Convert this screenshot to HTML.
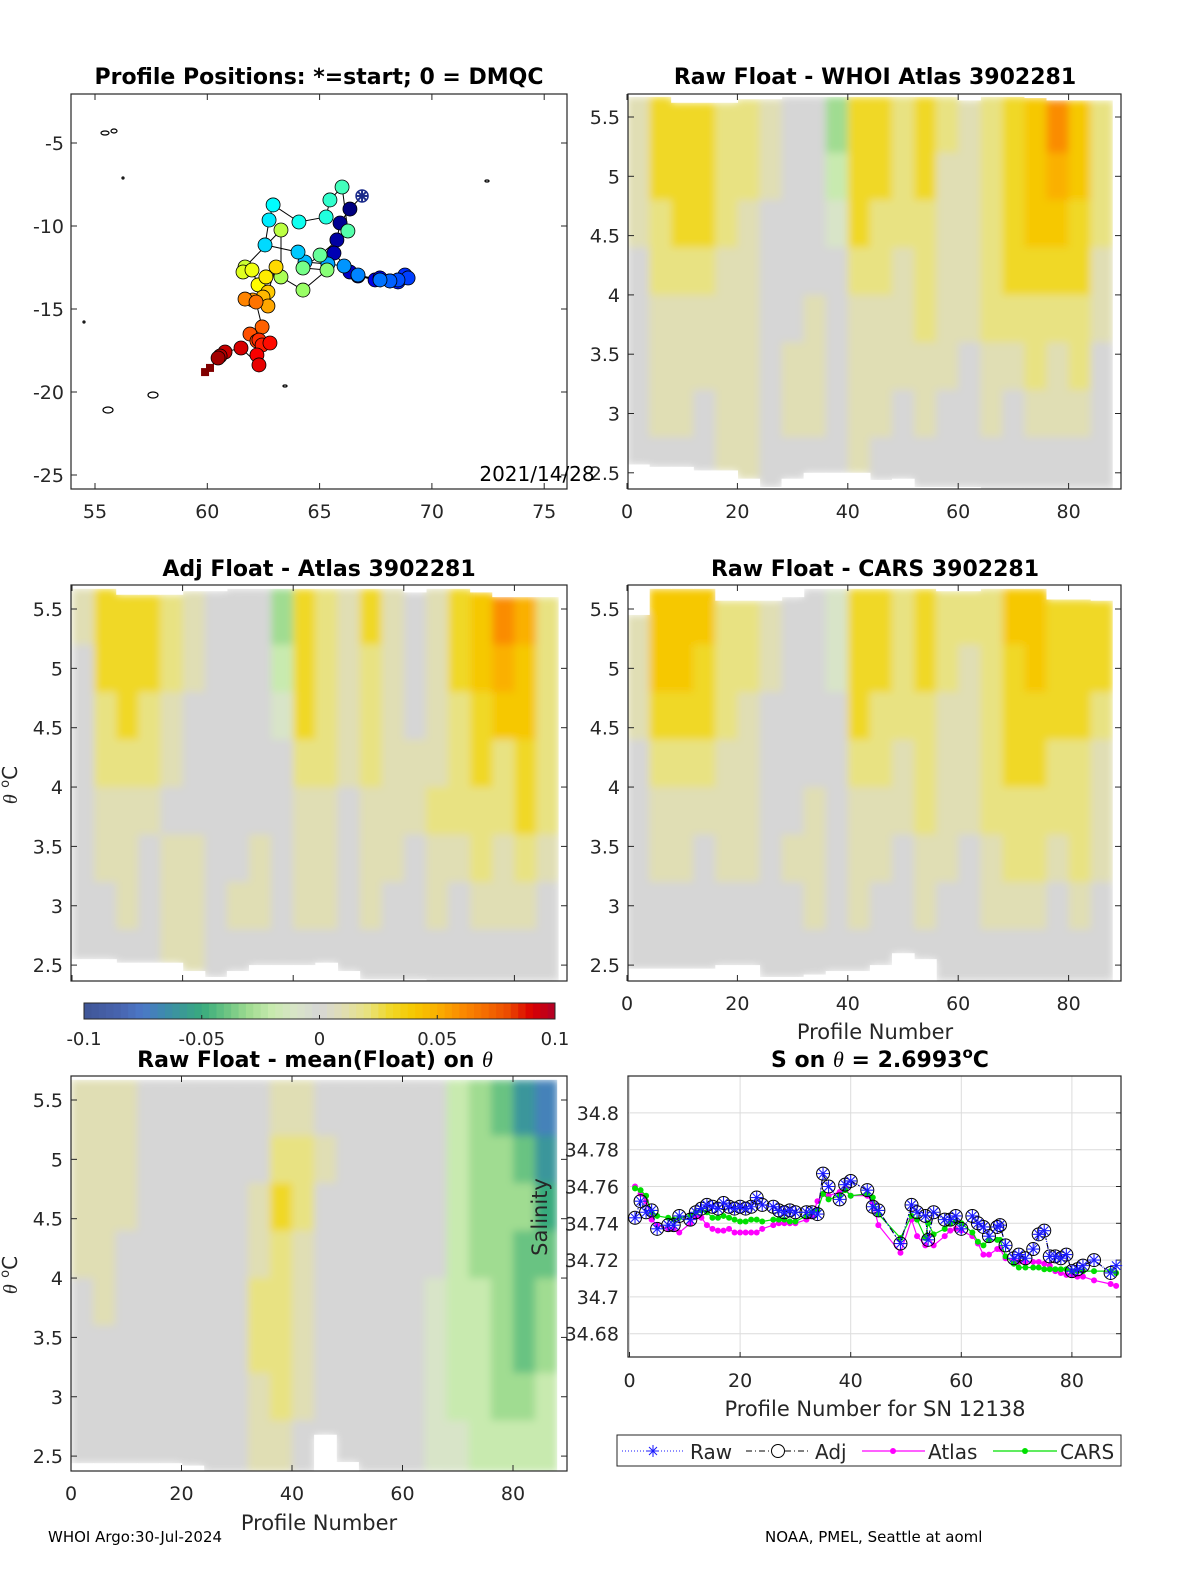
<!DOCTYPE html>
<html><head><meta charset="utf-8"><style>
html,body{margin:0;padding:0;background:#fff;}
svg{display:block;font-family:"DejaVu Sans","Liberation Sans",sans-serif;}
</style></head><body>
<svg id="fig" width="1200" height="1575" viewBox="0 0 1200 1575" xmlns="http://www.w3.org/2000/svg">
<defs><filter id="soft" x="-5%" y="-5%" width="110%" height="110%"><feGaussianBlur stdDeviation="4"/></filter></defs>
<g id="layer-heat"></g>
<g id="layer-map"></g>
<g id="layer-line"></g>
<g id="layer-text">
<text x="319" y="84" text-anchor="middle" font-size="22" font-weight="bold">Profile Positions: *=start; 0 = DMQC</text>
<text x="875" y="84" text-anchor="middle" font-size="22" font-weight="bold">Raw Float - WHOI Atlas  3902281</text>
<text x="319" y="576" text-anchor="middle" font-size="22" font-weight="bold">Adj Float - Atlas  3902281</text>
<text x="875" y="576" text-anchor="middle" font-size="22" font-weight="bold">Raw Float - CARS  3902281</text>
<text x="315" y="1067" text-anchor="middle" font-size="22" font-weight="bold">Raw Float - mean(Float) on <tspan font-family="Liberation Serif" font-style="italic" font-weight="normal">θ</tspan></text>
<text x="880" y="1067" text-anchor="middle" font-size="22" font-weight="bold">S on <tspan font-family="Liberation Serif" font-style="italic" font-weight="normal">θ</tspan> = 2.6993<tspan font-size="15" dy="-9">o</tspan><tspan dy="9">C</tspan></text>
<text x="537" y="481" text-anchor="middle" font-size="20">2021/14/28</text>
<text x="875" y="1039" text-anchor="middle" font-size="21" fill="#262626">Profile Number</text>
<text x="875" y="1416" text-anchor="middle" font-size="21" fill="#262626">Profile Number for SN 12138</text>
<text x="319" y="1530" text-anchor="middle" font-size="21" fill="#262626">Profile Number</text>
<text transform="translate(17,785) rotate(-90)" text-anchor="middle" font-size="20" fill="#262626"><tspan font-family="Liberation Serif" font-style="italic">θ</tspan> <tspan font-size="13" dy="-8">o</tspan><tspan dy="8">C</tspan></text>
<text transform="translate(17,1275) rotate(-90)" text-anchor="middle" font-size="20" fill="#262626"><tspan font-family="Liberation Serif" font-style="italic">θ</tspan> <tspan font-size="13" dy="-8">o</tspan><tspan dy="8">C</tspan></text>
<text transform="translate(547,1217) rotate(-90)" text-anchor="middle" font-size="21" fill="#262626">Salinity</text>
<text x="48" y="1542" font-size="15">WHOI Argo:30-Jul-2024</text>
<text x="765" y="1542" font-size="15">NOAA, PMEL, Seattle at aoml</text>
</g>
</svg>
<script>
// ---------- Data ----------
const whoiGrid = [
[1,3,3,3,2,2,1,0,0,-3,3,3,2,3,2,1,2,3,4,6,4,2],
[1,3,3,3,2,2,1,0,0,-2,3,3,2,3,1,1,2,3,4,5,4,2],
[1,2,3,3,2,1,0,0,0,-1,3,2,2,2,1,1,2,3,4,4,3,2],
[0,2,2,2,1,1,0,0,0,0,2,2,1,2,1,1,2,3,3,3,3,1],
[0,1,1,1,1,1,0,0,1,0,1,1,1,2,1,1,2,2,2,2,2,1],
[0,1,1,1,1,1,0,1,1,0,1,1,1,1,1,0,1,1,2,1,2,0],
[0,1,1,0,1,1,0,1,1,0,1,1,0,1,0,0,1,0,1,1,1,0],
[0,0,0,0,1,1,0,0,0,0,1,0,0,0,0,0,0,0,0,0,0,0]];
const whoiTop = [5.67,5.67,5.62,5.62,5.62,5.65,5.65,5.67,5.67,5.67,5.67,5.67,5.67,5.67,5.67,5.64,5.67,5.67,5.66,5.64,5.64,5.64];
const whoiBottom = [2.57,2.55,2.55,2.52,2.52,2.45,2.38,2.45,2.5,2.5,2.5,2.44,2.45,2.38,2.38,2.38,2.37,2.37,2.37,2.37,2.37,2.37];

const adjGrid = [
[1,3,3,3,2,1,0,0,0,-3,3,2,1,3,1,0,1,3,4,6,5,2],
[0,3,3,3,2,1,0,0,0,-2,3,2,1,2,1,0,1,3,4,5,4,2],
[0,2,3,2,1,0,0,0,0,-1,3,2,1,2,1,0,1,2,3,4,4,2],
[0,2,2,2,1,0,0,0,0,0,2,2,1,2,1,1,1,2,3,2,3,2],
[0,1,1,1,0,0,0,0,0,0,1,1,0,1,1,1,2,2,2,2,3,2],
[0,1,1,0,1,1,0,0,1,0,1,1,0,1,1,0,1,1,2,1,2,1],
[0,0,1,0,1,1,0,1,1,0,1,1,0,1,0,0,1,0,1,1,1,0],
[0,0,0,0,1,1,0,0,0,0,0,0,0,0,0,0,0,0,0,0,0,0]];
const adjTop = [5.67,5.67,5.62,5.62,5.62,5.65,5.65,5.67,5.67,5.67,5.67,5.67,5.67,5.67,5.67,5.64,5.67,5.67,5.64,5.6,5.6,5.6];
const adjBottom = [2.55,2.55,2.52,2.52,2.52,2.45,2.4,2.45,2.5,2.5,2.5,2.52,2.45,2.38,2.38,2.38,2.37,2.37,2.37,2.37,2.37,2.37];

const carsGrid = [
[1,4,4,4,2,2,1,0,0,-1,3,3,2,3,2,2,2,4,4,3,3,3],
[1,4,4,3,2,2,1,0,0,-1,3,3,2,3,2,1,2,3,4,3,3,3],
[1,3,3,3,2,1,0,0,0,0,3,2,2,2,1,1,2,3,3,3,3,2],
[0,2,2,2,1,1,0,0,0,0,2,2,1,2,1,1,2,3,3,2,2,1],
[0,1,1,1,1,1,0,0,1,0,1,1,1,2,1,1,2,2,2,2,2,1],
[0,1,1,0,1,1,0,1,1,0,1,1,0,1,1,0,1,2,2,1,2,1],
[0,0,0,0,0,0,0,0,1,0,1,0,0,1,0,0,1,1,1,0,1,0],
[0,0,0,0,0,0,0,0,0,0,0,0,0,0,0,0,0,0,0,0,0,0]];
const carsTop = [5.45,5.67,5.67,5.67,5.57,5.57,5.57,5.6,5.67,5.67,5.67,5.67,5.67,5.67,5.65,5.65,5.67,5.67,5.67,5.58,5.58,5.57];
const carsBottom = [2.47,2.47,2.47,2.47,2.5,2.5,2.4,2.4,2.42,2.45,2.45,2.5,2.6,2.55,2.37,2.37,2.37,2.37,2.37,2.37,2.37,2.37];

const meanGrid = [
[1,1,1,0,0,0,0,0,0,1,1,0,0,0,0,0,0,-2,-3,-4,-6,-7],
[1,1,1,0,0,0,0,0,0,2,2,1,0,0,0,0,0,-2,-3,-3,-4,-6],
[1,1,1,0,0,0,0,0,1,3,2,0,0,0,0,0,0,-2,-3,-3,-3,-5],
[1,1,0,0,0,0,0,0,1,2,1,0,0,0,0,0,0,-2,-3,-3,-4,-4],
[0,1,0,0,0,0,0,0,2,2,1,0,0,0,0,0,-1,-2,-2,-3,-4,-3],
[0,0,0,0,0,0,0,0,2,2,1,0,0,0,0,0,-1,-2,-2,-3,-4,-3],
[0,0,0,0,0,0,0,0,1,2,1,0,0,0,0,0,-1,-2,-2,-3,-3,-2],
[0,0,0,0,0,0,0,0,1,1,0,0,0,0,0,0,-1,-1,-2,-2,-2,-2]];
const meanTop = [5.67,5.67,5.67,5.67,5.67,5.67,5.67,5.67,5.67,5.67,5.67,5.67,5.67,5.67,5.67,5.67,5.67,5.67,5.67,5.67,5.67,5.67];
const meanBottom = [2.44,2.44,2.44,2.44,2.44,2.42,2.37,2.37,2.37,2.37,2.37,2.68,2.45,2.37,2.37,2.37,2.37,2.37,2.37,2.37,2.37,2.37];

const trackLon = [66.89,66.35,65.91,65.77,65.64,66.35,66.71,67.47,67.69,68.13,68.49,68.80,68.94,68.49,68.13,67.69,66.71,66.09,65.37,64.35,64.04,62.57,62.75,62.93,64.08,65.29,65.46,66.0,66.26,65.02,64.26,65.33,64.26,63.28,63.28,61.68,61.59,61.99,62.26,62.61,63.06,62.70,62.48,62.70,62.03,61.68,62.17,62.44,61.90,62.21,62.30,62.44,62.79,62.21,62.30,61.50,60.79,60.57,60.48,60.12,59.90];
const trackLat = [-8.19,-8.98,-9.82,-10.84,-11.63,-12.77,-13.01,-13.25,-13.13,-13.31,-13.37,-12.95,-13.13,-13.25,-13.31,-13.25,-12.95,-12.41,-12.29,-12.17,-11.57,-11.14,-9.64,-8.73,-9.76,-9.46,-8.43,-7.65,-10.30,-11.75,-12.53,-12.65,-13.86,-13.07,-10.24,-12.47,-12.77,-12.65,-13.55,-13.07,-12.47,-13.98,-14.28,-14.82,-14.46,-14.40,-14.58,-16.08,-16.51,-16.93,-16.87,-17.17,-17.05,-17.77,-18.37,-17.35,-17.59,-17.83,-17.95,-18.55,-18.80];

const profiles = [1,2,3,4,5,7,8,9,11,12,13,14,15,16,17,18,19,20,21,22,23,24,26,27,28,29,30,32,33,34,35,36,38,39,40,43,44,45,49,51,52,53.5,54,55,57,58,59,60,62,63,64,65,66.5,67,68,69.5,70.4,71.6,73,74,75,76,77,78,79,80,81,82,84,87,88];
const salRaw = [34.743,34.752,34.746,34.747,34.737,34.739,34.739,34.744,34.742,34.746,34.748,34.750,34.749,34.748,34.751,34.749,34.748,34.749,34.748,34.749,34.754,34.750,34.749,34.747,34.746,34.747,34.746,34.746,34.746,34.745,34.767,34.760,34.753,34.761,34.763,34.758,34.749,34.747,34.729,34.750,34.746,34.744,34.731,34.746,34.742,34.742,34.744,34.737,34.744,34.740,34.738,34.733,34.738,34.739,34.728,34.721,34.723,34.721,34.726,34.734,34.736,34.722,34.722,34.721,34.723,34.714,34.715,34.717,34.720,34.713,34.717];
const salAdj = salRaw.slice(0, salRaw.length-1);
const salAtlas = [34.760,34.756,34.752,34.742,34.739,34.737,34.737,34.735,34.740,34.744,34.743,34.739,34.737,34.736,34.736,34.737,34.735,34.735,34.735,34.735,34.735,34.737,34.739,34.740,34.740,34.740,34.740,34.742,34.744,34.752,34.756,34.755,34.757,34.759,34.755,34.755,34.751,34.739,34.724,34.742,34.733,34.728,34.733,34.728,34.733,34.736,34.737,34.736,34.733,34.729,34.723,34.723,34.726,34.726,34.721,34.720,34.719,34.719,34.719,34.719,34.718,34.717,34.714,34.713,34.712,34.712,34.711,34.711,34.709,34.707,34.706];
const salCars = [34.759,34.758,34.755,34.746,34.744,34.743,34.742,34.743,34.744,34.746,34.747,34.746,34.743,34.743,34.744,34.743,34.742,34.741,34.741,34.742,34.742,34.741,34.742,34.742,34.742,34.741,34.741,34.744,34.746,34.747,34.756,34.753,34.755,34.758,34.755,34.756,34.754,34.745,34.732,34.744,34.742,34.732,34.740,34.734,34.737,34.740,34.741,34.740,34.735,34.730,34.728,34.731,34.731,34.731,34.722,34.718,34.716,34.716,34.716,34.716,34.715,34.715,34.715,34.715,34.715,34.714,34.714,34.714,34.714,34.714,34.713];
const salTicks = [34.68,34.7,34.72,34.74,34.76,34.78,34.8];
const profTicks = [0,20,40,60,80];
const thetaTicks = [2.5,3,3.5,4,4.5,5,5.5];
const lonTicks = [55,60,65,70,75];
const latTicks = [-5,-10,-15,-20,-25];
const cbarTicks = [-0.1,-0.05,0,0.05,0.1];
const cbarTickLabels = ['-0.1','-0.05','0','0.05','0.1'];

// ---------- helpers ----------
const NS = 'http://www.w3.org/2000/svg';
function mk(tag, attrs, parent){ const e=document.createElementNS(NS,tag); for(const k in attrs) e.setAttribute(k,attrs[k]); if(parent) parent.appendChild(e); return e; }
const cstops = [[-0.1,[63,85,150]],[-0.085,[72,100,175]],[-0.075,[75,120,200]],[-0.065,[60,140,170]],[-0.05,[55,170,125]],[-0.04,[105,195,130]],[-0.03,[160,220,145]],[-0.02,[200,234,175]],[-0.01,[216,228,200]],[0,[214,214,214]],[0.01,[224,222,180]],[0.02,[232,226,130]],[0.03,[240,216,40]],[0.04,[246,200,0]],[0.05,[250,176,0]],[0.06,[250,140,0]],[0.07,[245,110,0]],[0.08,[236,75,0]],[0.09,[218,0,0]],[0.1,[176,0,40]]];
function cmap(v){ if(v<=cstops[0][0]) return 'rgb('+cstops[0][1]+')'; for(let i=1;i<cstops.length;i++){ if(v<=cstops[i][0]){ const a=cstops[i-1],b=cstops[i]; const t=(v-a[0])/(b[0]-a[0]); const c=a[1].map((x,j)=>Math.round(x+(b[1][j]-x)*t)); return 'rgb('+c+')'; } } return 'rgb('+cstops[cstops.length-1][1]+')'; }
function jet(t){ const r=Math.min(Math.max(1.5-Math.abs(4*t-3),0),1), g=Math.min(Math.max(1.5-Math.abs(4*t-2),0),1), b=Math.min(Math.max(1.5-Math.abs(4*t-1),0),1); return 'rgb('+[r,g,b].map(x=>Math.round(x*255))+')'; }

function axesFrame(parent, box, name){
  const r = mk('rect',{x:box.l,y:box.t,width:box.r-box.l,height:box.b-box.t,fill:'none',stroke:'#262626','stroke-width':1.2},parent);
  
  
}

const heat = document.getElementById('layer-heat');
function drawHeat(key, grid, tops, bottoms, box, showX){
  const g = mk('g',{},heat);
  
  
  const cid='clip-'+key;
  const cp = mk('clipPath',{id:cid},g); mk('rect',{x:box.l,y:box.t,width:box.r-box.l,height:box.b-box.t},cp);
  const outer = mk('g',{'clip-path':'url(#'+cid+')'},g);
  const cells = mk('g',{filter:'url(#soft)'},outer);
  const X = p => box.x0 + p*box.px;
  const Y = th => box.y55 + (5.5-th)*box.py;
  const nc = grid[0].length;
  for(let r=0;r<grid.length;r++){
    for(let c=0;c<nc;c++){
      const thTop = r===0 ? tops[c] : Math.min(5.6-0.4*r, tops[c]);
      const thBot = r===grid.length-1 ? bottoms[c] : Math.max(5.2-0.4*r, bottoms[c]);
      if(thTop<=thBot) continue;
      const x0=X(4*c), x1=X(4*c+4);
      const cell = mk('rect',{x:x0.toFixed(1),y:Y(thTop).toFixed(1),width:(x1-x0+0.6).toFixed(1),height:(Y(thBot)-Y(thTop)+0.6).toFixed(1),fill:cmap(grid[r][c]/100)},cells);
      
      
    }
  }
  for(let c=0;c<nc;c++){
    const x0=X(4*c), x1=X(4*c+4);
    mk('rect',{x:x0,y:box.t,width:x1-x0+0.6,height:Math.max(0,Y(tops[c])-box.t),fill:'#fff'},outer);
    mk('rect',{x:x0,y:Y(bottoms[c]),width:x1-x0+0.6,height:Math.max(0,box.b-Y(bottoms[c])),fill:'#fff'},outer);
  }
  const xe = X(4*nc);
  if(xe<box.r) mk('rect',{x:xe,y:box.t,width:box.r-xe,height:box.b-box.t,fill:'#fff'},outer);
  axesFrame(g, box, key+'-axes');
  thetaTicks.forEach(t=>{
    const y=Y(t);
    mk('line',{x1:box.l,x2:box.l+6,y1:y,y2:y,stroke:'#262626'},g);
    mk('line',{x1:box.r,x2:box.r-6,y1:y,y2:y,stroke:'#262626'},g);
    const tx = mk('text',{x:box.l-8,y:y+7,'text-anchor':'end','font-size':19,fill:'#262626'},g);
    tx.textContent = String(t);
    
    
  });
  profTicks.forEach(p=>{
    const x=X(p);
    mk('line',{x1:x,x2:x,y1:box.b,y2:box.b-6,stroke:'#262626'},g);
    mk('line',{x1:x,x2:x,y1:box.t,y2:box.t+6,stroke:'#262626'},g);
    if(showX){
      const tx = mk('text',{x:x,y:box.b+29,'text-anchor':'middle','font-size':19,fill:'#262626'},g);
      tx.textContent = String(p);
      
      
    }
  });
}
drawHeat('raw-whoi', whoiGrid, whoiTop, whoiBottom, {l:628,r:1121,t:94,b:489,x0:627,px:5.52,y55:117,py:118.6}, true);
drawHeat('adj-atlas', adjGrid, adjTop, adjBottom, {l:71,r:567,t:585,b:981,x0:72,px:5.53,y55:609,py:118.7}, false);
drawHeat('raw-cars', carsGrid, carsTop, carsBottom, {l:628,r:1121,t:585,b:981,x0:627,px:5.52,y55:609,py:118.7}, true);
drawHeat('raw-mean', meanGrid, meanTop, meanBottom, {l:71,r:567,t:1076,b:1471,x0:71,px:5.525,y55:1100,py:118.7}, true);

// colorbar
(function(){
  const g = mk('g',{},heat);
  
  
  const l=84, r=555, n=64;
  for(let i=0;i<n;i++){
    const v=-0.1+0.2*(i+0.5)/n;
    mk('rect',{x:(l+(r-l)*i/n).toFixed(2),y:1003,width:((r-l)/n+0.5).toFixed(2),height:16,fill:cmap(v)},g);
  }
  mk('rect',{x:l,y:1003,width:r-l,height:16,fill:'none',stroke:'#262626'},g);
  cbarTicks.forEach((t,i)=>{
    const x=l+(t+0.1)/0.2*(r-l);
    mk('line',{x1:x,x2:x,y1:1019,y2:1015,stroke:'#262626'},g);
    const tx=mk('text',{x:x,y:1045,'text-anchor':'middle','font-size':18,fill:'#262626'},g);
    tx.textContent=cbarTickLabels[i];
    
    
  });
})();

// map
(function(){
  const g = document.getElementById('layer-map');
  const box={l:71,r:567,t:94,b:489};
  const LX = lon => 95 + (lon-55)*22.46;
  const LY = lat => 143 + (-5-lat)*16.6;
  axesFrame(g, box, 'map-axes');
  lonTicks.forEach(t=>{ const x=LX(t);
    mk('line',{x1:x,x2:x,y1:box.b,y2:box.b-6,stroke:'#262626'},g);
    mk('line',{x1:x,x2:x,y1:box.t,y2:box.t+6,stroke:'#262626'},g);
    const tx=mk('text',{x:x,y:518,'text-anchor':'middle','font-size':19,fill:'#262626'},g); tx.textContent=String(t);
    
    
  });
  latTicks.forEach(t=>{ const y=LY(t);
    mk('line',{x1:box.l,x2:box.l+6,y1:y,y2:y,stroke:'#262626'},g);
    mk('line',{x1:box.r,x2:box.r-6,y1:y,y2:y,stroke:'#262626'},g);
    const tx=mk('text',{x:64,y:y+7,'text-anchor':'end','font-size':19,fill:'#262626'},g); tx.textContent=String(t);
    
    
  });
  const isl=[[105,133,4,2],[114,131,3,2],[123,178,1,1],[108,410,5,3],[153,395,5,3],[285,386,2,1],[487,181,2,1],[84,322,1,1]];
  isl.forEach(s=>{ const e=mk('ellipse',{cx:s[0],cy:s[1],rx:s[2],ry:s[3],fill:'none',stroke:'#000','stroke-width':1.2},g);
    
     });
  const pts = trackLon.map((lon,i)=>[LX(lon),LY(trackLat[i])]);
  const pl = mk('polyline',{points:pts.map(p=>p[0].toFixed(1)+','+p[1].toFixed(1)).join(' '),fill:'none',stroke:'#000','stroke-width':1},g);
  
  
  const n=pts.length;
  for(let i=1;i<n;i++){
    const t=(i-1)/(n-2);
    let m;
    if(i>=n-2){ m=mk('rect',{x:pts[i][0]-4,y:pts[i][1]-4,width:8,height:8,fill:'#800000'},g); }
    else m=mk('circle',{cx:pts[i][0],cy:pts[i][1],r:7,fill:jet(t),stroke:'#000','stroke-width':0.8},g);
    
    
  }
  const s=pts[0];
  const st=mk('g',{},g);
  
  
  mk('circle',{cx:s[0],cy:s[1],r:6,fill:'#fff',stroke:'#1a2a8a','stroke-width':1.5},st);
  for(let a=0;a<4;a++){ const an=a*Math.PI/4; mk('line',{x1:s[0]-6*Math.cos(an),y1:s[1]-6*Math.sin(an),x2:s[0]+6*Math.cos(an),y2:s[1]+6*Math.sin(an),stroke:'#1a2a8a','stroke-width':2},st); }
})();

// salinity line chart
(function(){
  const g = document.getElementById('layer-line');
  const box={l:628,r:1121,t:1076,b:1357};
  const X = p => 629.5 + p*5.53;
  const Y = v => 1186.5 + (34.76-v)*1840;
  mk('rect',{x:box.l,y:box.t,width:box.r-box.l,height:box.b-box.t,fill:'#fff'},g);
  profTicks.forEach(p=>{ const x=X(p);
    mk('line',{x1:x,x2:x,y1:box.t,y2:box.b,stroke:'#dcdcdc'},g);
    mk('line',{x1:x,x2:x,y1:box.b,y2:box.b-5,stroke:'#262626'},g);
    const tx=mk('text',{x:x,y:box.b+30,'text-anchor':'middle','font-size':19,fill:'#262626'},g); tx.textContent=String(p);
    
    
  });
  salTicks.forEach(v=>{ const y=Y(v);
    mk('line',{x1:box.l,x2:box.r,y1:y,y2:y,stroke:'#dcdcdc'},g);
    mk('line',{x1:box.r,x2:box.r-5,y1:y,y2:y,stroke:'#262626'},g);
    const tx=mk('text',{x:619,y:y+7,'text-anchor':'end','font-size':19,fill:'#262626'},g); tx.textContent=String(v);
    
    
  });
  axesFrame(g, box, 'salinity-axes');
  function series(vals, color, name, dash){
    const pts = vals.map((v,i)=>X(profiles[i]).toFixed(1)+','+Y(v).toFixed(1)).join(' ');
    const pl = mk('polyline',{points:pts,fill:'none',stroke:color,'stroke-width':1.2},g);
    if(dash) pl.setAttribute('stroke-dasharray',dash);
    
    
  }
  series(salAtlas,'#ff00ff','atlas');
  salAtlas.forEach((v,i)=>{ const c=mk('circle',{cx:X(profiles[i]),cy:Y(v),r:3,fill:'#ff00ff'},g);
    
     });
  series(salCars,'#00e000','cars');
  salCars.forEach((v,i)=>{ const c=mk('circle',{cx:X(profiles[i]),cy:Y(v),r:3,fill:'#00e000'},g);
    
     });
  series(salAdj,'#000','adj','6,3,1,3');
  salAdj.forEach((v,i)=>{ const c=mk('circle',{cx:X(profiles[i]),cy:Y(v),r:6.5,fill:'none',stroke:'#000','stroke-width':1},g);
    
     });
  series(salRaw,'#1a1aff','raw','1,2');
  salRaw.forEach((v,i)=>{ const x=X(profiles[i]), y=Y(v);
    const s=mk('path',{d:`M${x-6},${y}H${x+6}M${x},${y-6}V${y+6}M${x-4.2},${y-4.2}L${x+4.2},${y+4.2}M${x-4.2},${y+4.2}L${x+4.2},${y-4.2}`,stroke:'#1a1aff','stroke-width':1.1,fill:'none'},g);
    
     });
  const lg = mk('g',{},g);
  
  
  mk('rect',{x:617,y:1435,width:504,height:31,fill:'#fff',stroke:'#262626'},lg);
  const ly=1451;
  const e1=mk('g',{},lg);  
  mk('line',{x1:622,x2:685,y1:ly,y2:ly,stroke:'#1a1aff','stroke-dasharray':'1,2'},e1);
  mk('path',{d:`M647,${ly}H659M653,${ly-6}V${ly+6}M649,${ly-4}L657,${ly+4}M649,${ly+4}L657,${ly-4}`,stroke:'#1a1aff',fill:'none'},e1);
  let t=mk('text',{x:690,y:ly+8,'font-size':20,fill:'#262626'},e1); t.textContent='Raw';
  const e2=mk('g',{},lg);  
  mk('line',{x1:746,x2:810,y1:ly,y2:ly,stroke:'#000','stroke-dasharray':'6,3,1,3'},e2);
  mk('circle',{cx:778,cy:ly,r:6.5,fill:'#fff',stroke:'#000'},e2);
  t=mk('text',{x:815,y:ly+8,'font-size':20,fill:'#262626'},e2); t.textContent='Adj';
  const e3=mk('g',{},lg);  
  mk('line',{x1:862,x2:925,y1:ly,y2:ly,stroke:'#ff00ff','stroke-width':1.2},e3);
  mk('circle',{cx:893,cy:ly,r:3,fill:'#ff00ff'},e3);
  t=mk('text',{x:928,y:ly+8,'font-size':20,fill:'#262626'},e3); t.textContent='Atlas';
  const e4=mk('g',{},lg);  
  mk('line',{x1:993,x2:1057,y1:ly,y2:ly,stroke:'#00e000','stroke-width':1.2},e4);
  mk('circle',{cx:1025,cy:ly,r:3,fill:'#00e000'},e4);
  t=mk('text',{x:1060,y:ly+8,'font-size':20,fill:'#262626'},e4); t.textContent='CARS';
})();
document.getElementById('fig').appendChild(document.getElementById('layer-text'));
</script>
</body></html>
